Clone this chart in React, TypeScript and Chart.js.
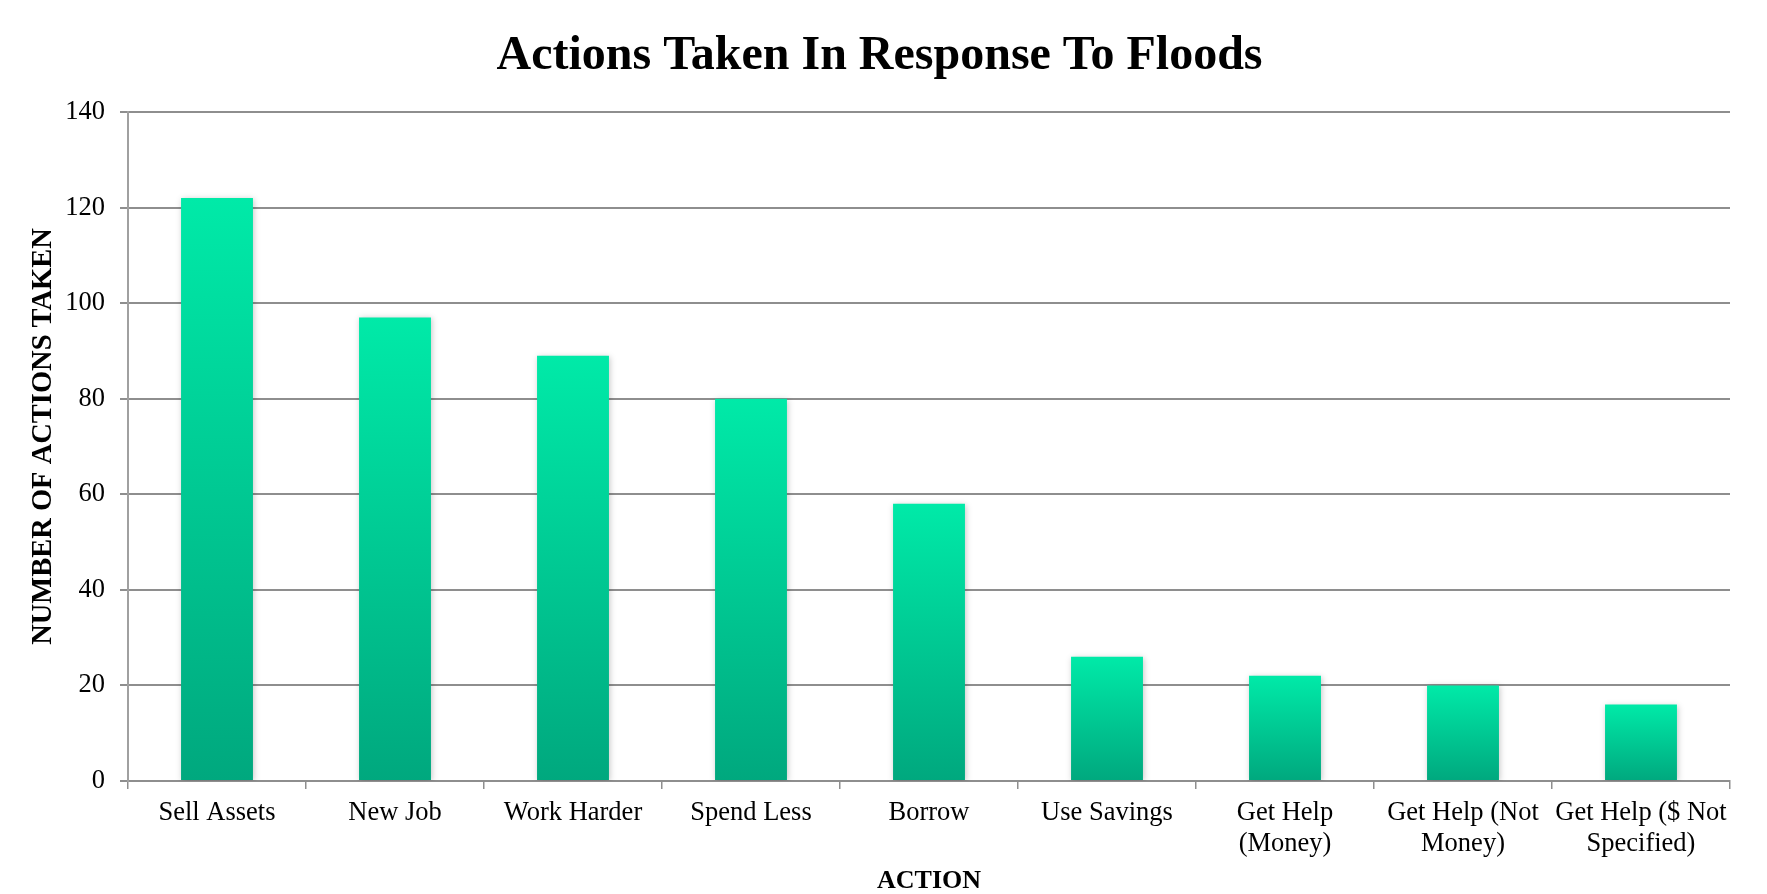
import React, { useEffect, useRef } from "react";
import { Chart, registerables } from "chart.js";

Chart.register(...registerables);

const categories: (string | string[])[] = [
  "Sell Assets",
  "New Job",
  "Work Harder",
  "Spend Less",
  "Borrow",
  "Use Savings",
  ["Get Help", "(Money)"],
  ["Get Help (Not", "Money)"],
  ["Get Help ($ Not", "Specified)"],
];
const actionCounts: number[] = [122, 97, 89, 80, 58, 26, 22, 20, 16];
const yTickValues: number[] = [0, 20, 40, 60, 80, 100, 120, 140];
const yAxisTitle = "NUMBER OF ACTIONS TAKEN";

const TOP_COLOR = "#00EAA8";
const BOTTOM_COLOR = "#00A87E";
const GRID = "#8e8e8e";
const FONT = "'Liberation Serif', 'Times New Roman', serif";

const shadowPlugin = {
  id: "barShadow",
  beforeDatasetsDraw(chart: any) {
    const ctx = chart.ctx;
    ctx.save();
    ctx.shadowColor = "rgba(0,0,0,0.22)";
    ctx.shadowBlur = 6;
    ctx.shadowOffsetX = 1;
    ctx.shadowOffsetY = 1;
  },
  afterDatasetsDraw(chart: any) {
    chart.ctx.restore();
  },
};

const yTitlePlugin = {
  id: "yTitle",
  afterDraw(chart: any) {
    const ctx = chart.ctx;
    const area = chart.chartArea;
    ctx.save();
    ctx.translate(44, (area.top + area.bottom) / 2 - 10);
    ctx.rotate(-Math.PI / 2);
    ctx.fillStyle = "#000";
    ctx.font = `bold 28.5px ${FONT}`;
    ctx.textAlign = "center";
    ctx.textBaseline = "middle";
    ctx.fillText(yAxisTitle, 0, 0);
    ctx.restore();
  },
};

export default function App() {
  const ref = useRef<HTMLCanvasElement | null>(null);

  useEffect(() => {
    document.body.style.margin = "0";
    const canvas = ref.current;
    if (!canvas) return;
    const chart = new Chart(canvas, {
      type: "bar",
      data: {
        labels: categories as any,
        datasets: [
          {
            label: "Actions",
            data: actionCounts,
            categoryPercentage: 1,
            barPercentage: 0.404,
            borderWidth: 0,
            backgroundColor: (c: any) => {
              const ch = c.chart;
              if (!ch.chartArea || c.type !== "data") return TOP_COLOR;
              const ys = ch.scales.y;
              const top = ys.getPixelForValue(c.raw as number);
              const bottom = ys.getPixelForValue(0);
              if (!isFinite(top) || !isFinite(bottom) || top === bottom) return TOP_COLOR;
              const g = ch.ctx.createLinearGradient(0, top, 0, bottom);
              g.addColorStop(0, TOP_COLOR);
              g.addColorStop(1, BOTTOM_COLOR);
              return g;
            },
          },
        ],
      },
      options: {
        animation: false,
        responsive: false,
        layout: { padding: { left: 0, right: 8, top: 0, bottom: 0 } },
        plugins: {
          legend: { display: false },
          tooltip: { enabled: false },
          title: {
            display: true,
            text: "Actions Taken In Response To Floods",
            color: "#000",
            font: { family: FONT, size: 48, weight: "bold", lineHeight: 1.2 },
            padding: { top: 28, bottom: 26.4 },
          },
        },
        scales: {
          x: {
            offset: true,
            grid: {
              display: true,
              drawOnChartArea: false,
              drawTicks: true,
              tickLength: 8,
              color: GRID,
              lineWidth: 1.5,
              offset: true,
            },
            border: { display: true, color: GRID, width: 2 },
            ticks: {
              color: "#000",
              padding: 8,
              maxRotation: 0,
              autoSkip: false,
              font: { family: FONT, size: 26.5, lineHeight: 1.18 },
            },
            title: {
              display: true,
              text: "ACTION",
              color: "#000",
              font: { family: FONT, size: 26, weight: "bold", lineHeight: 1 },
              padding: 0,
            },
            afterFit: (s: any) => {
              s.height = 113;
            },
          },
          y: {
            min: 0,
            max: 140,
            afterBuildTicks: (s: any) => {
              s.ticks = yTickValues.map((v) => ({ value: v }));
            },
            grid: {
              color: GRID,
              lineWidth: 2,
              drawTicks: true,
              tickLength: 8,
            },
            border: { display: true, color: "#a0a0a0", width: 2 },
            ticks: {
              color: "#000",
              padding: 15,
              font: { family: FONT, size: 26.5 },
            },
            title: { display: false },
            afterFit: (s: any) => {
              s.width = 128;
            },
          },
          yRight: {
            position: "right",
            display: true,
            grid: { display: false, drawTicks: false },
            border: { display: false },
            ticks: { display: false },
            afterFit: (s: any) => {
              s.width = 29;
            },
          },
        },
      },
      plugins: [shadowPlugin, yTitlePlugin],
    });
    return () => chart.destroy();
  }, []);

  return (
    <div style={{ width: 1767, height: 894, background: "#fff" }}>
      <canvas ref={ref} width={1767} height={894} style={{ display: "block" }} />
    </div>
  );
}
